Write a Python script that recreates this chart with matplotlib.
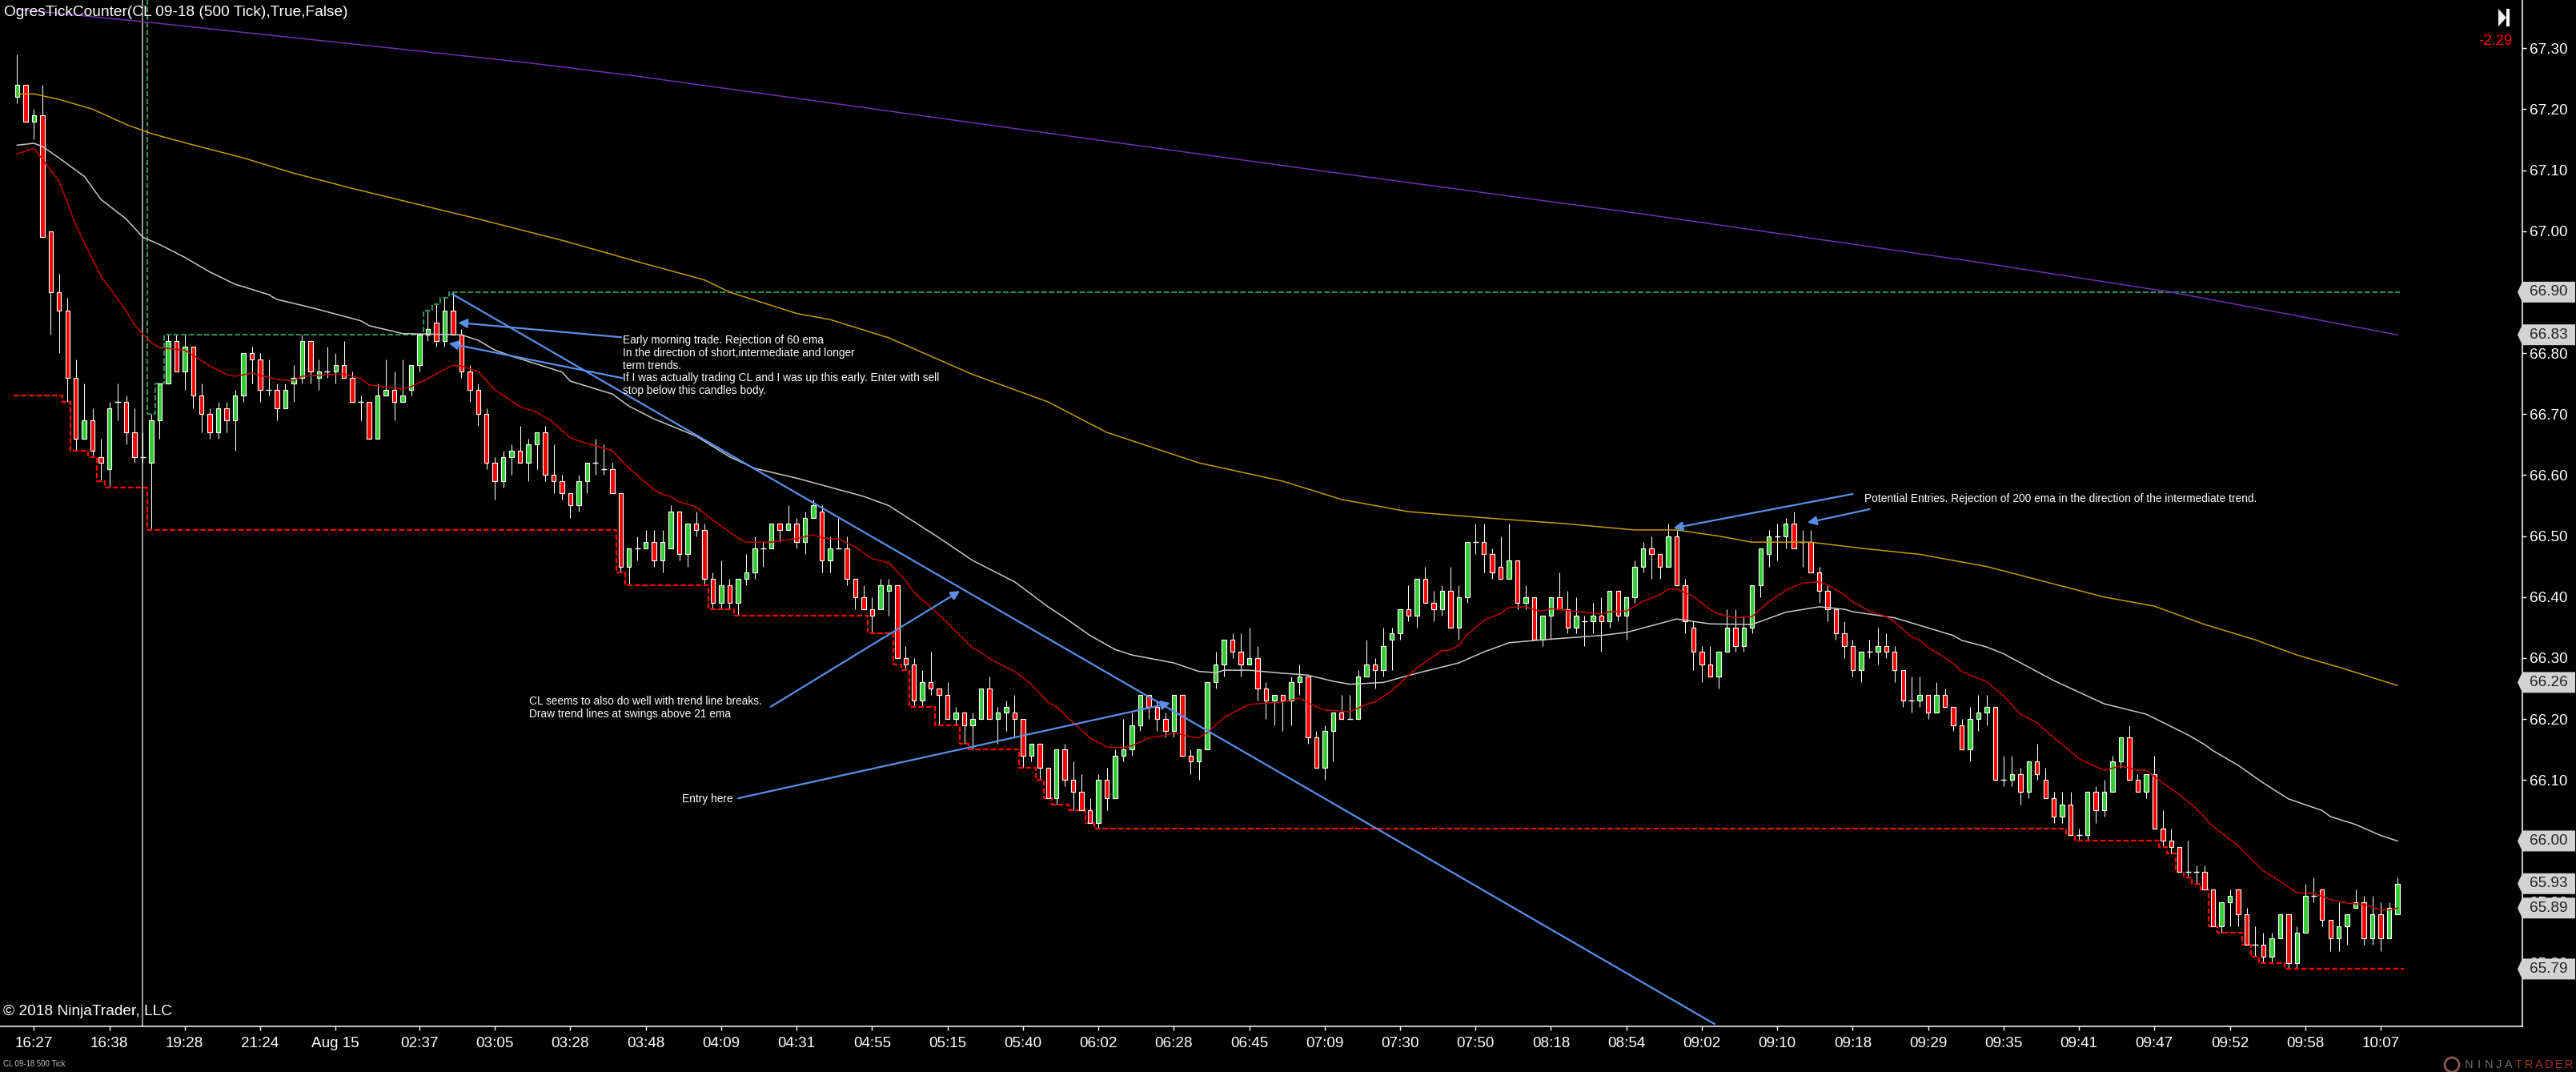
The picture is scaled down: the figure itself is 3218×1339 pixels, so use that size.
import matplotlib
matplotlib.use('Agg')
import matplotlib.pyplot as plt
from matplotlib.patches import Polygon, Rectangle, Circle
from matplotlib.transforms import blended_transform_factory

plt.rcParams['font.family'] = ['Liberation Sans', 'DejaVu Sans']

# candles, prices in cents
opens = [6722,6724,6718,6719,6700,6690,6687,6676,6666,6669,6663,6661,6672,6672,6667,6663,6662,6669,6675,6682,
         6677,6681,6673,6670,6667,6671,6669,6673,6680,6679,6674,6674,6671,6675,6676,6682,6676,6677,6677,6678,
         6676,6672,6672,6666,6673,6674,6672,6674,6678,6683,6685,6682,6687,6683,6677,6674,6670,6662,6659,6663,
         6664,6662,6665,6667,6660,6659,6657,6655,6659,6662,6661,6661,6657,6645,6648,6648,6649,6646,6648,6654,
         6647,6652,6651,6643,6639,6642,6639,6643,6644,6648,6648,6652,6651,6652,6649,6653,6654,6646,6648,6648,
         6643,6640,6638,6638,6641,6642,6630,6629,6623,6626,6625,6624,6620,6621,6619,6620,6625,6620,6621,6621,
         6620,6614,6616,6612,6607,6615,6610,6608,6605,6603,6610,6607,6614,6615,6619,6624,6622,6620,6618,6624,
         6614,6613,6615,6626,6629,6633,6631,6629,6630,6625,6623,6624,6623,6626,6627,6617,6612,6618,6621,6620,
         6620,6627,6629,6628,6633,6634,6638,6637,6643,6639,6638,6641,6635,6640,6649,6649,6647,6645,6643,6646,
         6639,6640,6633,6637,6640,6638,6635,6636,6636,6637,6636,6641,6637,6640,6645,6648,6647,6645,6650,6642,
         6635,6631,6629,6627,6631,6635,6632,6635,6642,6647,6650,6650,6652,6649,6649,6644,6641,6638,6634,6632,
         6628,6631,6631,6632,6631,6628,6623,6623,6624,6621,6624,6622,6619,6615,6620,6621,6622,6610,6610,6611,
         6608,6613,6610,6607,6604,6606,6601,6601,6608,6605,6608,6613,6617,6610,6608,6611,6602,6600,6599,6595,
         6595,6595,6592,6586,6590,6592,6588,6583,6583,6581,6584,6588,6580,6585,6591,6592,6587,6584,6586,6589,
         6590,6584,6588,6584,6588]
highs = [6729,6724,6720,6724,6700,6693,6689,6679,6675,6671,6666,6672,6675,6673,6671,6667,6670,6675,6683,6683,
         6683,6681,6675,6671,6672,6672,6674,6680,6681,6680,6679,6675,6675,6678,6683,6682,6679,6681,6680,6682,
         6677,6673,6672,6675,6679,6677,6679,6678,6683,6687,6688,6689,6690,6684,6678,6675,6671,6663,6664,6665,
         6668,6666,6667,6668,6665,6660,6657,6660,6662,6666,6665,6662,6657,6648,6650,6651,6651,6651,6655,6654,
         6652,6654,6652,6644,6646,6643,6643,6647,6650,6649,6652,6652,6655,6653,6654,6656,6655,6650,6653,6650,
         6643,6642,6640,6643,6643,6642,6632,6630,6628,6631,6625,6626,6622,6621,6621,6625,6627,6622,6623,6624,
         6620,6616,6616,6612,6615,6616,6613,6611,6607,6611,6612,6615,6620,6621,6624,6624,6623,6621,6624,6624,
         6615,6615,6626,6631,6633,6634,6634,6635,6632,6626,6624,6624,6627,6629,6627,6618,6619,6621,6624,6624,
         6628,6633,6630,6635,6635,6638,6642,6643,6645,6641,6642,6645,6642,6649,6652,6652,6648,6650,6652,6646,
         6642,6640,6637,6640,6644,6641,6640,6637,6639,6640,6641,6641,6640,6646,6649,6650,6647,6652,6651,6643,
         6636,6632,6632,6631,6638,6638,6637,6642,6648,6651,6652,6653,6654,6651,6651,6645,6642,6638,6636,6633,
         6631,6633,6635,6634,6632,6628,6627,6627,6624,6626,6625,6622,6620,6622,6624,6624,6622,6614,6614,6612,
         6613,6616,6612,6608,6608,6608,6602,6608,6609,6610,6614,6617,6619,6611,6611,6614,6605,6602,6599,6600,
         6596,6596,6592,6590,6592,6592,6589,6586,6585,6585,6588,6588,6586,6593,6594,6592,6587,6590,6588,6592,
         6591,6591,6590,6590,6594]
lows = [6721,6718,6715,6699,6683,6680,6672,6664,6666,6663,6659,6658,6669,6665,6662,6662,6651,6666,6675,6677,
        6674,6671,6667,6666,6666,6667,6664,6672,6675,6672,6673,6669,6671,6672,6675,6675,6674,6676,6675,6676,
        6672,6669,6666,6666,6673,6669,6672,6673,6677,6682,6681,6681,6683,6676,6672,6668,6661,6656,6658,6660,
        6662,6659,6661,6659,6657,6656,6653,6654,6657,6660,6660,6657,6644,6642,6646,6648,6645,6644,6648,6646,
        6645,6650,6642,6638,6638,6638,6637,6642,6643,6645,6648,6649,6651,6648,6647,6653,6644,6644,6648,6642,
        6638,6638,6634,6638,6637,6630,6628,6622,6622,6624,6619,6620,6619,6616,6615,6620,6620,6616,6618,6617,
        6612,6613,6610,6607,6606,6609,6605,6605,6603,6602,6605,6607,6613,6614,6618,6620,6618,6617,6617,6614,
        6611,6610,6615,6625,6627,6630,6627,6629,6623,6620,6619,6618,6619,6624,6616,6612,6610,6613,6620,6620,
        6620,6627,6625,6627,6628,6633,6636,6635,6639,6636,6637,6635,6633,6639,6647,6644,6643,6643,6643,6638,
        6638,6633,6632,6633,6638,6634,6634,6632,6634,6631,6635,6636,6633,6639,6644,6643,6643,6645,6642,6634,
        6628,6626,6627,6625,6631,6631,6631,6634,6640,6645,6646,6648,6648,6645,6644,6639,6636,6633,6630,6627,
        6626,6630,6629,6630,6626,6622,6621,6622,6620,6621,6622,6618,6615,6613,6618,6619,6610,6609,6609,6606,
        6607,6610,6607,6603,6603,6601,6600,6600,6603,6604,6608,6612,6610,6608,6607,6602,6599,6598,6595,6594,
        6593,6592,6586,6585,6586,6586,6583,6581,6580,6580,6584,6579,6579,6585,6590,6586,6582,6582,6583,6589,
        6583,6583,6582,6584,6588]
closes = [6724,6718,6719,6699,6690,6687,6676,6666,6669,6664,6662,6671,6672,6667,6663,6663,6669,6675,6682,6677,
          6681,6673,6670,6667,6671,6669,6673,6680,6679,6674,6674,6671,6674,6676,6682,6677,6677,6677,6678,6676,
          6672,6672,6666,6673,6674,6672,6673,6678,6683,6684,6682,6687,6683,6677,6674,6670,6662,6659,6663,6664,
          6662,6665,6667,6660,6659,6657,6655,6659,6662,6662,6661,6657,6645,6648,6648,6649,6646,6649,6654,6647,
          6652,6651,6643,6639,6642,6639,6643,6644,6648,6648,6652,6651,6652,6649,6653,6655,6646,6648,6648,6643,
          6640,6638,6637,6642,6642,6630,6629,6623,6626,6625,6624,6620,6621,6619,6620,6625,6620,6621,6622,6620,
          6614,6616,6612,6607,6615,6610,6608,6605,6603,6610,6607,6614,6615,6619,6624,6622,6620,6618,6624,6614,
          6613,6615,6626,6629,6633,6631,6629,6630,6625,6623,6624,6623,6626,6627,6617,6612,6618,6621,6620,6620,
          6627,6629,6628,6632,6634,6638,6637,6643,6639,6638,6641,6635,6640,6649,6649,6647,6644,6643,6646,6639,
          6640,6633,6637,6640,6638,6635,6637,6636,6637,6636,6641,6637,6640,6645,6648,6647,6645,6650,6642,6636,
          6631,6629,6627,6631,6635,6632,6635,6642,6648,6650,6650,6652,6648,6649,6644,6641,6638,6634,6632,6628,
          6631,6631,6632,6631,6628,6623,6623,6624,6621,6624,6622,6619,6615,6620,6621,6622,6610,6610,6611,6608,
          6613,6611,6607,6604,6606,6601,6601,6608,6605,6608,6613,6617,6610,6608,6611,6602,6600,6599,6595,6595,
          6595,6592,6586,6590,6591,6588,6583,6583,6581,6584,6588,6580,6585,6591,6591,6587,6584,6586,6588,6590,
          6584,6588,6584,6589,6593]

# moving averages: bar index, price
purple_idx = [0, 16, 40, 61, 74, 116, 155, 194, 233, 257, 284]
purple_val = [67.364, 67.342, 67.307, 67.276, 67.254, 67.174, 67.10, 67.028, 66.951, 66.90, 66.83]

yellow_idx = [0, 2, 5, 9, 13, 16, 20, 27, 33, 40, 46, 55, 65, 74, 82, 85, 93, 97, 104, 114, 123, 130, 141, 151,
              158, 166, 175, 185, 193, 198, 203, 207, 214, 220, 227, 235, 242, 249, 255, 261, 267, 272, 277, 284]
yellow_val = [67.225, 67.225, 67.216, 67.20, 67.175, 67.16, 67.145, 67.12, 67.095, 67.07, 67.05, 67.02, 66.985,
              66.95, 66.92, 66.90, 66.865, 66.855, 66.825, 66.765, 66.72, 66.67, 66.62, 66.59, 66.56, 66.54,
              66.53, 66.52, 66.51, 66.51, 66.50, 66.49, 66.49, 66.48, 66.47, 66.45, 66.425, 66.40, 66.385,
              66.355, 66.33, 66.305, 66.285, 66.255]

gray_idx = [0, 2, 3, 5, 8, 10, 13, 15, 17, 20, 23, 26, 30, 31, 35, 41, 42, 46, 53, 55, 57, 59, 62, 65, 66, 71, 73,
            76, 81, 85, 88, 93, 101, 104, 110, 114, 119, 123, 125, 128, 131, 133, 138, 141, 143, 144, 147, 151,
            154, 157, 159, 163, 167, 172, 175, 178, 182, 189, 192, 198, 202, 207, 211, 215, 218, 219, 224, 231,
            232, 235, 237, 243, 246, 249, 254, 259, 261, 262, 265, 268, 271, 275, 276, 279, 282, 284]
gray_val = [67.141, 67.144, 67.139, 67.12, 67.09, 67.052, 67.02, 66.99, 66.978, 66.957, 66.933, 66.913, 66.896,
            66.888, 66.875, 66.853, 66.845, 66.832, 66.83, 66.821, 66.805, 66.795, 66.782, 66.769, 66.754, 66.733,
            66.713, 66.692, 66.664, 66.63, 66.611, 66.595, 66.565, 66.55, 66.497, 66.46, 66.425, 66.384, 66.366,
            66.337, 66.314, 66.305, 66.292, 66.278, 66.276, 66.28, 66.28, 66.275, 66.272, 66.262, 66.257, 66.26,
            66.275, 66.292, 66.31, 66.325, 66.33, 66.337, 66.342, 66.364, 66.356, 66.355, 66.375, 66.384, 66.38,
            66.376, 66.366, 66.337, 66.329, 66.318, 66.307, 66.263, 66.244, 66.225, 66.208, 66.174, 66.158, 66.148,
            66.124, 66.095, 66.069, 66.05, 66.04, 66.027, 66.009, 66.00]

red_idx = [0, 2, 3, 5, 7, 10, 13, 14, 16, 17, 20, 23, 25, 26, 28, 31, 33, 34, 39, 41, 42, 46, 47, 49, 50, 52, 53, 55,
           57, 60, 62, 64, 66, 67, 71, 73, 76, 77, 78, 79, 81, 83, 86, 87, 90, 93, 95, 96, 98, 100, 102, 104, 106,
           107, 110, 114, 115, 116, 119, 121, 123, 124, 126, 128, 130, 132, 133, 135, 137, 138, 140, 141, 142, 144,
           145, 147, 151, 153, 155, 156, 159, 161, 162, 164, 167, 170, 171, 172, 173, 175, 177, 178, 180, 181, 182,
           183, 189, 190, 192, 194, 196, 197, 198, 200, 202, 203, 205, 207, 209, 211, 213, 215, 216, 218, 219, 221,
           223, 224, 226, 227, 228, 230, 231, 232, 235, 237, 239, 241, 243, 244, 246, 247, 249, 251, 253, 254, 256,
           258, 260, 262, 265, 268, 270, 272, 274, 276, 278, 280, 282, 283, 284]
red_val = [67.127, 67.136, 67.118, 67.082, 67.01, 66.926, 66.87, 66.846, 66.817, 66.809, 66.805, 66.779, 66.765,
           66.762, 66.767, 66.757, 66.755, 66.762, 66.766, 66.758, 66.748, 66.741, 66.745, 66.758, 66.766, 66.78,
           66.779, 66.77, 66.74, 66.712, 66.703, 66.686, 66.661, 66.656, 66.64, 66.611, 66.576, 66.568, 66.565,
           66.556, 66.548, 66.526, 66.497, 66.49, 66.49, 66.496, 66.502, 66.497, 66.495, 66.482, 66.463, 66.456,
           66.427, 66.408, 66.371, 66.316, 66.31, 66.299, 66.278, 66.257, 66.228, 66.22, 66.194, 66.169, 66.154,
           66.153, 66.156, 66.169, 66.173, 66.178, 66.171, 66.169, 66.178, 66.202, 66.21, 66.224, 66.228, 66.234,
           66.22, 66.215, 66.212, 66.224, 66.228, 66.246, 66.284, 66.312, 66.313, 66.321, 66.338, 66.362, 66.373,
           66.383, 66.384, 66.379, 66.377, 66.381, 66.372, 66.376, 66.377, 66.393, 66.404, 66.413, 66.413, 66.401,
           66.379, 66.372, 66.366, 66.368, 66.392, 66.411, 66.423, 66.425, 66.42, 66.404, 66.392, 66.377, 66.368,
           66.359, 66.335, 66.329, 66.317, 66.301, 66.291, 66.278, 66.261, 66.238, 66.208, 66.194, 66.169, 66.158,
           66.135, 66.128, 66.116, 66.123, 66.116, 66.116, 66.095, 66.076, 66.053, 66.024, 65.992, 65.951, 65.934,
           65.915, 65.914, 65.904, 65.898, 65.896, 65.887, 65.887, 65.89]

# swing indicator, dashed steps
swing_low_edges = [-0.4, 5.4, 6.4, 8.5, 9.5, 10.5, 15.5, 71.5, 72.5, 82.5, 85.5, 101.5, 104.5, 105.5, 106.5, 109.5,
                   112.5, 113.5, 119.5, 121.5, 122.5, 123.5, 125.5, 127.5, 128.5, 244.5, 245.5, 255.5, 256.5, 257.5,
                   258.5, 259.5, 260.5, 261.5, 262.5, 265.5, 266.5, 267.5, 270.5, 284.8]
swing_low_vals = [66.73, 66.72, 66.64, 66.63, 66.59, 66.58, 66.51, 66.44, 66.42, 66.38, 66.37, 66.34, 66.29, 66.28,
                  66.22, 66.19, 66.16, 66.15, 66.12, 66.10, 66.07, 66.06, 66.05, 66.03, 66.02, 66.01, 66.00, 65.99,
                  65.98, 65.95, 65.94, 65.93, 65.92, 65.86, 65.85, 65.83, 65.81, 65.80, 65.79]
swing_high_edges = [15.5, 15.5, 16.5, 17.5, 48.5, 49.5, 50.5, 51.5, 284.3]
swing_high_vals = [67.45, 66.70, 66.75, 66.83, 66.87, 66.88, 66.89, 66.90]

# drawn objects: (bar, price) -> (bar, price)
trend_line = [(51.9, 66.897), (202.5, 65.70)]
arrows = [((72.07, 66.826), (52.6, 66.85)),
          ((72.2, 66.759), (51.5, 66.816)),
          ((89.9, 66.22), (112.5, 66.41)),
          ((86.0, 66.07), (137.6, 66.226)),
          ((219.0, 66.569), (197.6, 66.513)),
          ((221.0, 66.544), (213.6, 66.522))]

price_ticks = [67.30, 67.20, 67.10, 67.00, 66.90, 66.80, 66.70, 66.60, 66.50, 66.40, 66.30, 66.20, 66.10, 66.00, 65.90, 65.80]
boxed_prices = [66.90, 66.83, 66.26, 66.00, 65.93, 65.89, 65.79]
time_idx = [2, 11, 20, 29, 38, 48, 57, 66, 75, 84, 93, 102, 111, 120, 129, 138, 147, 156, 165, 174, 183, 192, 201,
            210, 219, 228, 237, 246, 255, 264, 273, 282]
time_labels = ['16:27', '16:38', '19:28', '21:24', 'Aug 15', '02:37', '03:05', '03:28', '03:48', '04:09', '04:31',
               '04:55', '05:15', '05:40', '06:02', '06:28', '06:45', '07:09', '07:30', '07:50', '08:18', '08:54',
               '09:02', '09:10', '09:18', '09:29', '09:35', '09:41', '09:47', '09:52', '09:58', '10:07']

W, H = 3218, 1339
AX_R, AX_B = 3151, 1282
BLUE = '#5b8fe6'
GREEN = '#32cd32'
RED = '#ff0000'

fig = plt.figure(figsize=(W / 100, H / 100), dpi=100, facecolor='black')
ax = fig.add_axes([0, (H - AX_B) / H, AX_R / W, AX_B / H], facecolor='black')
ax.set_xlim(-2.044, 298.9)
ax.set_ylim(65.696, 67.379)


def px_text(x, y, s, **kw):
    kw.setdefault('color', 'white')
    kw.setdefault('va', 'center')
    fig.text(x / W, 1 - y / H, s, **kw)


# candles
x = list(range(len(opens)))
ax.vlines(x, [v / 100 for v in lows], [v / 100 for v in highs], color='white', lw=0.75, zorder=3)
for i in x:
    o, c = opens[i] / 100, closes[i] / 100
    if c == o:
        ax.plot([i - 0.34, i + 0.34], [o, o], color='white', lw=1, zorder=4, solid_capstyle='butt')
    else:
        col = GREEN if c > o else RED
        ax.bar(i, abs(c - o), bottom=min(o, c), width=0.52, facecolor=col, edgecolor='white', linewidth=0.85, zorder=4)

# session break
ax.axvline(15, color='#c8c8c8', lw=1.1, zorder=2)

# dashed swing lines
ax.step(swing_low_edges, swing_low_vals + [swing_low_vals[-1]], where='post', color=RED, lw=1.6, dashes=(3, 1.3), zorder=3)
ax.step(swing_high_edges, swing_high_vals + [swing_high_vals[-1]], where='post', color='#2e8b57', lw=1.6, dashes=(3, 1.3), zorder=3)

# averages
ax.plot(purple_idx, purple_val, color='#6f2fb3', lw=1.1, zorder=5)
ax.plot(yellow_idx, yellow_val, color='#c49a00', lw=1.1, zorder=5)
ax.plot(gray_idx, gray_val, color='#c8c8c8', lw=1.1, zorder=5)
ax.plot(red_idx, red_val, color='#c00000', lw=1.1, zorder=5)

# trend line and arrows
ax.plot(*zip(*trend_line), color=BLUE, lw=1.6, zorder=6)
for tail, tip in arrows:
    ax.annotate('', xy=tip, xytext=tail, zorder=6,
                arrowprops=dict(arrowstyle='-|>', color=BLUE, lw=1.6, mutation_scale=17, shrinkA=0, shrinkB=0))

# axes
for side in ['top', 'left']:
    ax.spines[side].set_visible(False)
for side in ['right', 'bottom']:
    ax.spines[side].set_color('white')
    ax.spines[side].set_linewidth(1.1)
ax.yaxis.tick_right()
ax.set_yticks(price_ticks)
ax.set_yticklabels(['%.2f' % p for p in price_ticks])
ax.set_xticks(time_idx)
ax.set_xticklabels(time_labels)
ax.tick_params(axis='y', colors='white', length=3.6, width=1, pad=3, labelsize=13.6)
ax.tick_params(axis='x', colors='white', length=3.6, width=1, pad=6, labelsize=13.6)

# price flags on the axis
flag = blended_transform_factory(ax.transAxes, ax.transData)
x0, x1, x2 = 3145 / AX_R, 1.0, 3217 / AX_R
dy = 13 / 762
for p in boxed_prices:
    ax.add_patch(Polygon([(x0, p), (x1, p + dy), (x2, p + dy), (x2, p - dy), (x1, p - dy)], closed=True,
                         transform=flag, facecolor='#d3d3d3', edgecolor='none', clip_on=False, zorder=7))
    ax.text(3160 / AX_R, p, '%.2f' % p, transform=flag, color='#222222', fontsize=13.6, va='center', ha='left',
            clip_on=False, zorder=8)

# texts
px_text(5, 16, 'OgresTickCounter(CL 09-18 (500 Tick),True,False)', fontsize=13.75)
px_text(4, 1264, '\u00a9 2018 NinjaTrader, LLC', fontsize=13.8)
px_text(4, 1329, 'CL 09-18 500 Tick', color='#c0c0c0', fontsize=6.9)
px_text(3138, 52, '-2.29', color=RED, fontsize=13.4, ha='right')

note_lines = ['Early morning trade. Rejection of 60 ema',
              'In the direction of short,intermediate and longer',
              'term trends.',
              'If I was actually trading CL and I was up this early. Enter with sell',
              'stop below this candles body.']
note_ys = [425, 441, 457, 472, 488]
for y, s in zip(note_ys, note_lines):
    px_text(778, y, s, fontsize=9.95)
px_text(661, 876, 'CL seems to also do well with trend line breaks.', fontsize=9.95)
px_text(661, 892, 'Draw trend lines at swings above 21 ema', fontsize=9.95)
px_text(852, 998, 'Entry here', fontsize=9.95)
px_text(2329, 623, 'Potential Entries. Rejection of 200 ema in the direction of the intermediate trend.', fontsize=9.95)

# forward button
fig.add_artist(Polygon([(3121 / W, 1 - 11 / H), (3131 / W, 1 - 22 / H), (3121 / W, 1 - 33 / H)], closed=True,
                       transform=fig.transFigure, facecolor='#eeeeee', edgecolor='none'))
fig.add_artist(Rectangle((3131 / W, 1 - 33 / H), 4 / W, 22 / H, transform=fig.transFigure, facecolor='white', edgecolor='none'))

# watermark
logo_x = 3084
for n, ch in enumerate('NINJATRADER'):
    px_text(logo_x + n * 12.5, 1330, ch, color='#707070' if n < 5 else '#a83226', fontsize=10.5, ha='center')
fig.add_artist(Circle((3063, H - 1330), 9, transform=None, facecolor='none', edgecolor='#8a5a50', linewidth=2))

fig.savefig('out.png', dpi=100, facecolor='black')
